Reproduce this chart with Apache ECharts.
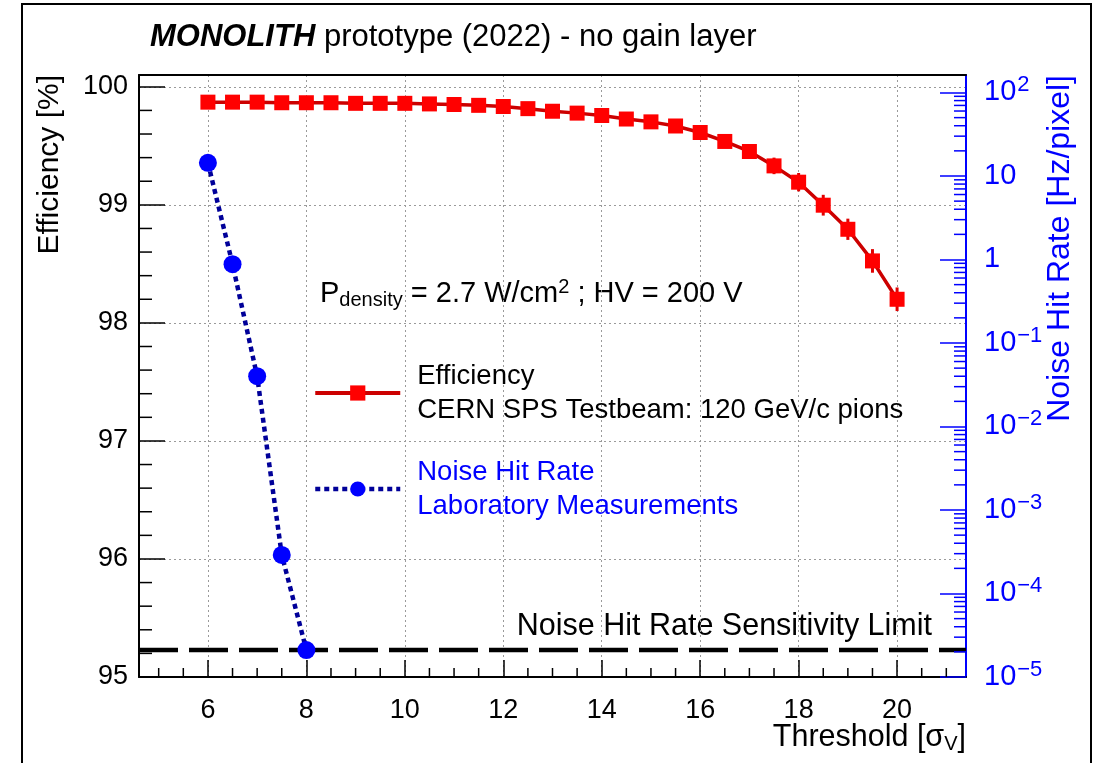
<!DOCTYPE html>
<html>
<head>
<meta charset="utf-8">
<script src="https://cdn.jsdelivr.net/npm/echarts@6/dist/echarts.min.js"></script>
<style>
  html, body { margin: 0; padding: 0; background: #fff; }
  #main { width: 1099px; height: 763px; }
</style>
</head>
<body>
<div id="main"></div>
<script>
// efficiency vs threshold (test beam)
var threshold = [6, 6.5, 7, 7.5, 8, 8.5, 9, 9.5, 10, 10.5, 11, 11.5, 12, 12.5, 13,
  13.5, 14, 14.5, 15, 15.5, 16, 16.5, 17, 17.5, 18, 18.5, 19, 19.5, 20];
var efficiency = [99.87, 99.87, 99.87, 99.865, 99.865, 99.865, 99.86, 99.86, 99.86,
  99.855, 99.85, 99.843, 99.833, 99.815, 99.793, 99.777, 99.757, 99.727, 99.703,
  99.668, 99.613, 99.537, 99.452, 99.33, 99.192, 98.997, 98.793, 98.525, 98.2];
var efficiencyErr = [0.02, 0.02, 0.02, 0.02, 0.02, 0.02, 0.02, 0.02, 0.02, 0.02,
  0.02, 0.02, 0.02, 0.02, 0.02, 0.02, 0.02, 0.02, 0.02, 0.02, 0.03, 0.045, 0.055,
  0.07, 0.078, 0.088, 0.09, 0.1, 0.1];

// noise hit rate (lab), Hz/pixel
var noiseThreshold = [6, 6.5, 7, 7.5, 8];
var noiseRate = [14.4, 0.88, 0.040, 2.9e-4, 2.1e-5];
var sensitivityLimit = 2.1e-5;

var X_MIN = 4.6, X_MAX = 21.4;
var Y_MIN = 95, Y_MAX = 100.1;
var R_MIN = 1e-5, R_MAX = 162;
var FONT = 'Liberation Sans';

// minor tick positions (ROOT style)
var xMinor = [];
for (var i = 10; i <= 42; i++) {
  if (i % 4 !== 0) xMinor.push(i / 2);
}
var yMinor = [];
for (var j = 476; j < 500; j++) {
  if (j % 5 !== 0) yMinor.push(j / 5);
}
var rMinor = [];
for (var e = -5; e <= 2; e++) {
  for (var k = 2; k <= 9; k++) {
    var v = k * Math.pow(10, e);
    if (v < R_MAX) rMinor.push(v);
  }
}

var chart = echarts.init(document.getElementById('main'));

function tickSeries(name, xIdx, yIdx, data, dx, dy, color) {
  return {
    type: 'custom',
    name: name,
    xAxisIndex: xIdx,
    yAxisIndex: yIdx,
    silent: true,
    clip: false,
    z: 3,
    data: data,
    renderItem: function (params, api) {
      var p = api.coord([api.value(0), api.value(1)]);
      return {
        type: 'line',
        shape: { x1: p[0], y1: p[1], x2: p[0] + dx, y2: p[1] + dy },
        style: { stroke: color, lineWidth: 1.5 }
      };
    }
  };
}

var gridLine = { show: true, lineStyle: { color: '#9a9a9a', width: 1, type: [2, 3] } };

var option = {
  animation: false,
  backgroundColor: '#fff',
  textStyle: { fontFamily: FONT },
  grid: { left: 139, right: 133, top: 75, bottom: 86 },
  xAxis: [{
    type: 'value',
    min: X_MIN,
    max: X_MAX,
    splitNumber: 8,
    axisLine: { show: true, onZero: false, lineStyle: { color: '#000', width: 2 } },
    axisTick: { show: true, inside: true, length: 17, lineStyle: { color: '#000', width: 1.5 } },
    axisLabel: {
      color: '#000', fontSize: 27, fontFamily: FONT, margin: 20,
      showMinLabel: false, showMaxLabel: false,
      formatter: function (v) { return (Math.abs(v - Math.round(v)) < 1e-6) ? String(v) : ''; }
    },
    splitLine: gridLine
  }, {
    type: 'value',
    position: 'top',
    min: X_MIN,
    max: X_MAX,
    axisLine: { show: true, onZero: false, lineStyle: { color: '#000', width: 2 } },
    axisTick: { show: false },
    axisLabel: { show: false },
    splitLine: { show: false }
  }],
  yAxis: [{
    type: 'value',
    min: Y_MIN,
    max: Y_MAX,
    splitNumber: 5,
    axisLine: { show: true, onZero: false, lineStyle: { color: '#000', width: 2 } },
    axisTick: { show: true, inside: true, length: 26, lineStyle: { color: '#000', width: 1.5 } },
    axisLabel: {
      color: '#000', fontSize: 27, fontFamily: FONT, margin: 11,
      showMaxLabel: false,
      formatter: function (v) { return (Math.abs(v - Math.round(v)) < 1e-6) ? String(v) : ''; }
    },
    splitLine: gridLine
  }, {
    type: 'log',
    position: 'right',
    min: R_MIN,
    max: R_MAX,
    logBase: 10,
    axisLine: { show: true, onZero: false, lineStyle: { color: '#0000ff', width: 2 } },
    axisTick: { show: true, inside: true, length: 26, lineStyle: { color: '#0000ff', width: 1.5 } },
    axisLabel: {
      color: '#0000ff', fontSize: 29, fontFamily: FONT, margin: 18,
      showMaxLabel: false,
      formatter: function (v) {
        var lg = Math.log10(v);
        var n = Math.round(lg);
        if (Math.abs(lg - n) > 0.01) return '';
        if (n === 0) return '1';
        if (n === 1) return '10';
        return '10{sup|' + (n < 0 ? '\u2212' + (-n) : n) + '}';
      },
      rich: {
        sup: { fontSize: 22, color: '#0000ff', fontFamily: FONT, verticalAlign: 'top', padding: [0, 0, 15, 1] }
      }
    },
    splitLine: { show: false }
  }],
  legend: {
    orient: 'vertical',
    left: 308,
    top: 354,
    itemWidth: 85,
    itemHeight: 19,
    itemGap: 28,
    selectedMode: false,
    data: [
      { name: 'Efficiency', textStyle: { color: '#000' }, lineStyle: { color: '#cc0000', width: 4 } },
      { name: 'Noise Hit Rate', textStyle: { color: '#0000ff' }, lineStyle: { color: '#000099', width: 4.5, type: [5, 4] } }
    ],
    formatter: function (name) {
      return name === 'Efficiency'
        ? 'Efficiency\nCERN SPS Testbeam: 120 GeV/c pions'
        : 'Noise Hit Rate\nLaboratory Measurements';
    },
    textStyle: { fontSize: 27.5, fontFamily: FONT, lineHeight: 34, padding: [0, 0, 0, 12] }
  },
  graphic: [
    {
      type: 'rect', silent: true, z: 0,
      shape: { x: 22, y: 4, width: 1069, height: 800 },
      style: { fill: 'none', stroke: '#000', lineWidth: 2 }
    },
    {
      type: 'text', left: 150, top: 22, silent: true,
      style: {
        text: '{b|MONOLITH}{n| prototype (2022) - no gain layer}',
        rich: {
          b: { fontSize: 31, fontWeight: 'bold', fontStyle: 'italic', fontFamily: FONT, fill: '#000' },
          n: { fontSize: 31, fontFamily: FONT, fill: '#000' }
        }
      }
    },
    {
      type: 'text', left: 320, top: 277, silent: true,
      style: {
        text: '{t|P}{sub|density}{t| = 2.7 W/cm}{sup|2}{t| ; HV = 200 V}',
        rich: {
          t: { fontSize: 29, fontFamily: FONT, fill: '#000', verticalAlign: 'middle' },
          sub: { fontSize: 20, fontFamily: FONT, fill: '#000', verticalAlign: 'bottom', padding: [13, 0, 0, 0] },
          sup: { fontSize: 20, fontFamily: FONT, fill: '#000', verticalAlign: 'top', padding: [0, 0, 13, 0] }
        }
      }
    },
    {
      type: 'text', right: 167, top: 611, silent: true,
      style: { text: 'Noise Hit Rate Sensitivity Limit', fontSize: 30.5, fontFamily: FONT, fill: '#000' }
    },
    {
      type: 'text', right: 133, top: 722, silent: true,
      style: {
        text: '{t|Threshold [\u03c3}{sub|V}{t|]}',
        rich: {
          t: { fontSize: 30.5, fontFamily: FONT, fill: '#000' },
          sub: { fontSize: 20, fontFamily: FONT, fill: '#000', verticalAlign: 'bottom', padding: [13, 0, 0, 0] }
        }
      }
    },
    {
      type: 'text', x: 50, y: 75, rotation: Math.PI / 2, silent: true,
      style: { text: 'Efficiency [%]', fontSize: 30, fontFamily: FONT, fill: '#000', align: 'right', verticalAlign: 'middle' }
    },
    {
      type: 'text', x: 1060, y: 75, rotation: Math.PI / 2, silent: true,
      style: { text: 'Noise Hit Rate [Hz/pixel]', fontSize: 32, fontFamily: FONT, fill: '#0000ff', align: 'right', verticalAlign: 'middle' }
    }
  ],
  series: [
    {
      type: 'line',
      name: 'limit',
      xAxisIndex: 0,
      yAxisIndex: 1,
      z: 1,
      silent: true,
      symbol: 'none',
      lineStyle: { color: '#000', width: 4.5, type: [39, 11] },
      data: [[X_MIN, sensitivityLimit], [X_MAX, sensitivityLimit]]
    },
    {
      type: 'custom',
      name: 'effErr',
      xAxisIndex: 0,
      yAxisIndex: 0,
      silent: true,
      z: 1,
      data: threshold.map(function (x, i) { return [x, efficiency[i], efficiencyErr[i]]; }),
      renderItem: function (params, api) {
        var lo = api.coord([api.value(0), api.value(1) - api.value(2)]);
        var hi = api.coord([api.value(0), api.value(1) + api.value(2)]);
        return {
          type: 'line',
          shape: { x1: lo[0], y1: lo[1], x2: hi[0], y2: hi[1] },
          style: { stroke: '#e00000', lineWidth: 3 }
        };
      }
    },
    {
      type: 'line',
      name: 'Efficiency',
      xAxisIndex: 0,
      yAxisIndex: 0,
      z: 2,
      symbol: 'rect',
      symbolSize: 15,
      itemStyle: { color: '#ff0000' },
      lineStyle: { color: '#cc0000', width: 3.5 },
      data: threshold.map(function (x, i) { return [x, efficiency[i]]; })
    },
    {
      type: 'line',
      name: 'Noise Hit Rate',
      xAxisIndex: 0,
      yAxisIndex: 1,
      z: 4,
      symbol: 'circle',
      symbolSize: 18,
      itemStyle: { color: '#0000ff' },
      lineStyle: { color: '#000099', width: 4.5, type: [5, 4] },
      data: noiseThreshold.map(function (x, i) { return [x, noiseRate[i]]; })
    },
    tickSeries('xMinor', 0, 0, xMinor.map(function (x) { return [x, Y_MIN]; }), 0, -9, '#000'),
    tickSeries('yMinor', 0, 0, yMinor.map(function (y) { return [X_MIN, y]; }), 13, 0, '#000'),
    tickSeries('rMinor', 0, 1, rMinor.map(function (y) { return [X_MAX, y]; }), -12, 0, '#0000ff')
  ]
};

chart.setOption(option);
</script>
</body>
</html>
